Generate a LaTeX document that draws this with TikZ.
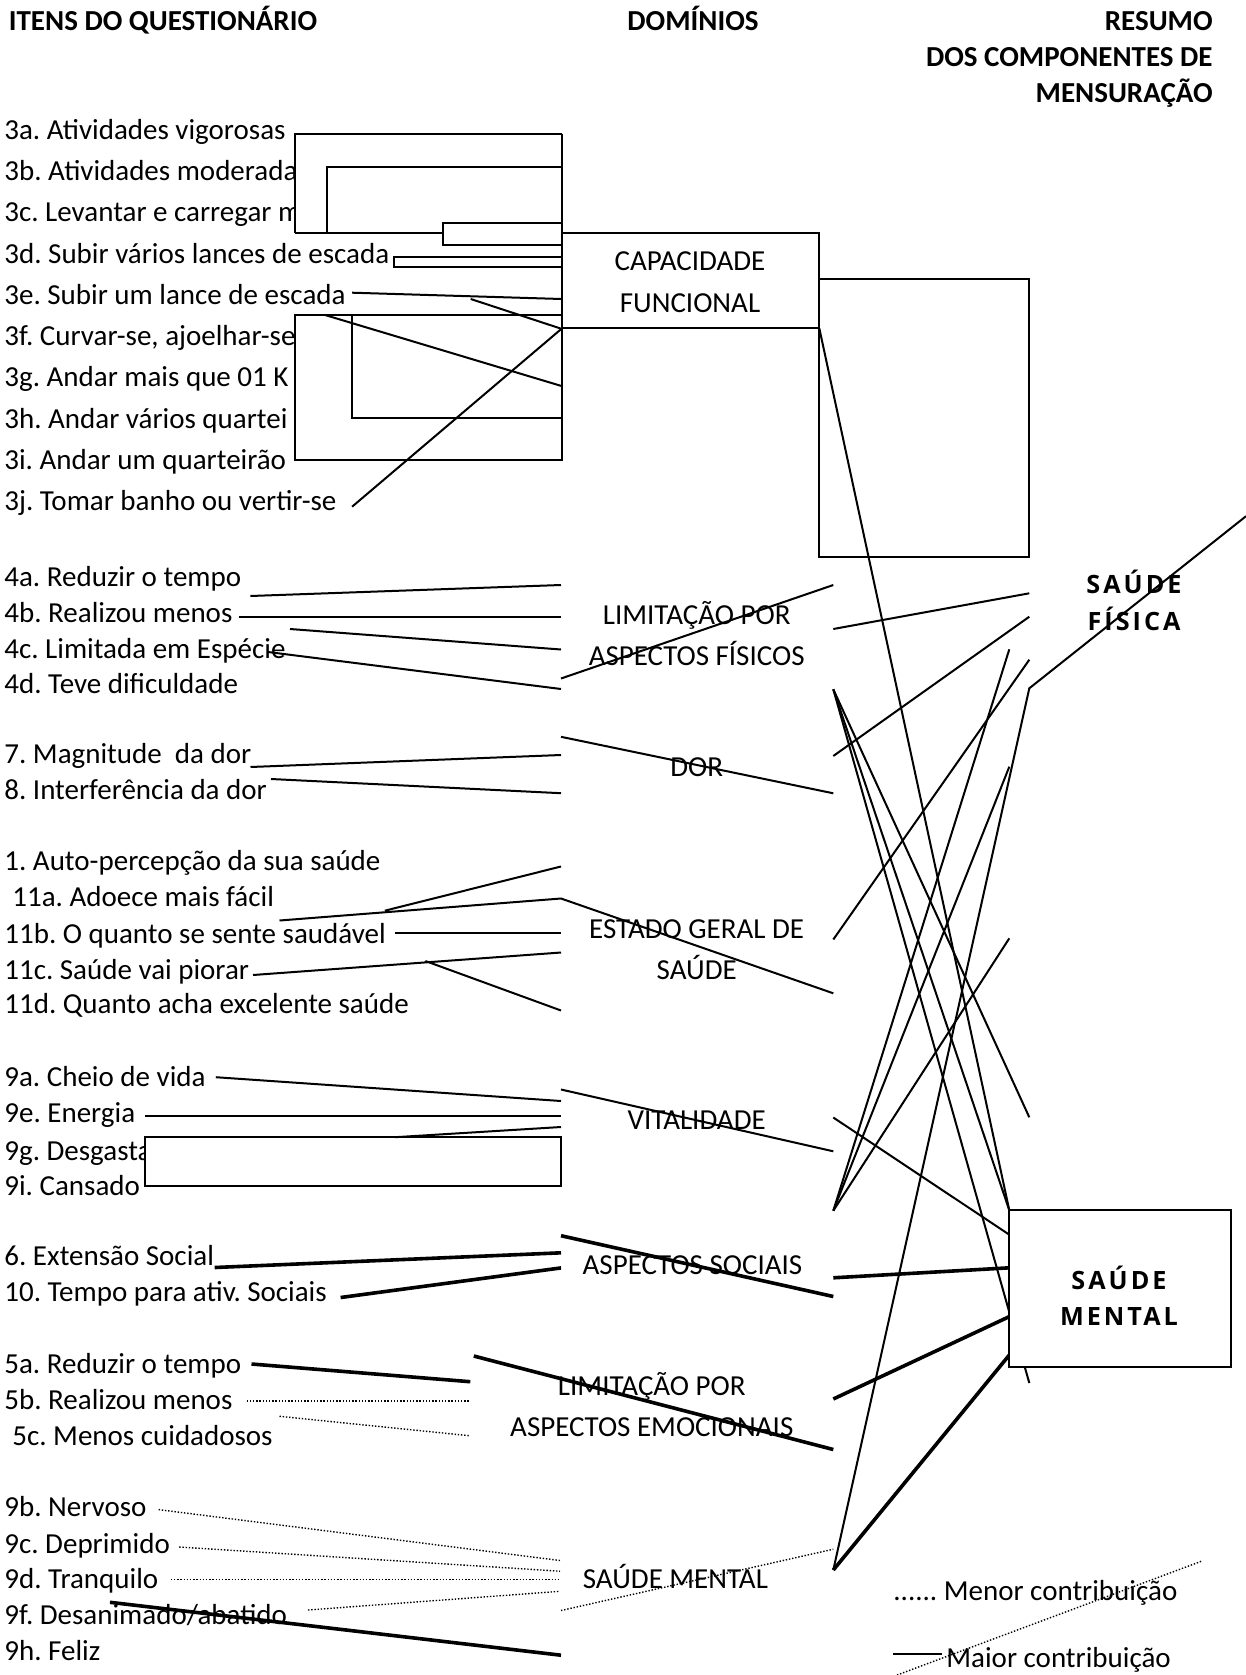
\documentclass[tikz,border=0pt]{standalone}
\usepackage{fontspec}
\setmainfont{Carlito}
\newfontfamily\osfam[LetterSpace=12]{Open Sans}
\frenchspacing
\begin{document}
\frenchspacing
\begin{tikzpicture}[x=0.5pt,y=-0.5pt,
 txt/.style={anchor=base west,inner sep=0pt,font=\fontsize{14.5}{17}\selectfont},
 dom/.style={anchor=base,inner sep=0pt,font=\fontsize{14.5}{17}\selectfont},
 hd/.style={inner sep=0pt,font=\fontsize{14.5}{17}\selectfont\bfseries},
 big/.style={anchor=base,inner sep=0pt,font=\fontsize{12.6}{15}\osfam\bfseries},
 ln/.style={line width=1pt},
 thk/.style={line width=1.8pt},
 dts/.style={line width=0.7pt,dash pattern=on 0.7pt off 0.9pt},
 wbox/.style={draw,fill=white,line width=1pt}]
\useasboundingbox (0,0) rectangle (1246,1675);

% ---------- headings
\node[hd,anchor=base west] (h1) at (8.5,30.5) {ITENS DO QUESTIONÁRIO};
\node[hd,anchor=base] (h2) at (693,30.5) {DOMÍNIOS};
\node[hd,anchor=base east] (h3) at (1213,30.5) {RESUMO};
\node[hd,anchor=base east] (h4) at (1213,67) {DOS COMPONENTES DE};
\node[hd,anchor=base east] (h5) at (1213,103) {MENSURAÇÃO};

% ---------- items
\node[txt] (i3a) at (4,139.5) {3a. Atividades vigorosas};
\node[txt] (i3b) at (4,180) {3b. Atividades moderada};
\node[txt] (i3c) at (4,221.7) {3c. Levantar e carregar m};
\node[txt] (i3d) at (4,263.3) {3d. Subir vários lances de escada};
\node[txt] (i3e) at (4,304) {3e. Subir um lance de escada};
\node[txt] (i3f) at (4,345.6) {3f. Curvar-se, ajoelhar-se};
\node[txt] (i3g) at (4,386.2) {3g. Andar mais que 01 K};
\node[txt] (i3h) at (4,428) {3h. Andar vários quartei};
\node[txt] (i3i) at (4,469.6) {3i. Andar um quarteirão};
\node[txt] (i3j) at (4,510.2) {3j. Tomar banho ou vertir-se};

\node[txt] (i4a) at (4,586) {4a. Reduzir o tempo};
\node[txt] (i4b) at (4,622.4) {4b. Realizou menos};
\node[txt] (i4c) at (4,658.7) {4c. Limitada em Espécie};
\node[txt] (i4d) at (4,693) {4d. Teve dificuldade};
\node[txt] (i7) at (4,763.4) {7. Magnitude\ \ da dor};
\node[txt] (i8) at (4,799.8) {8. Interferência da dor};
\node[txt] (i1) at (4,870.3) {1. Auto-percepção da sua saúde};
\node[txt] (i11a) at (12,906.6) {11a. Adoece mais fácil};
\node[txt] (i11b) at (4,943) {11b. O quanto se sente saudável};
\node[txt] (i11c) at (4,979.3) {11c. Saúde vai piorar};
\node[txt] (i11d) at (4,1013.5) {11d. Quanto acha excelente saúde};

\node[txt] (i9a) at (4,1086.2) {9a. Cheio de vida};
\node[txt] (i9e) at (4,1122.5) {9e. Energia};
\node[txt] (i9g) at (4,1160) {9g. Desgasta};
\node[txt] (i9i) at (4,1195) {9i. Cansado};
\node[txt] (i6) at (4,1265.7) {6. Extensão Social};
\node[txt] (i10) at (4,1301) {10. Tempo para ativ. Sociais};
\node[txt] (i5a) at (4,1373.6) {5a. Reduzir o tempo};
\node[txt] (i5b) at (4,1409) {5b. Realizou menos};
\node[txt] (i5c) at (12,1445.2) {5c. Menos cuidadosos};
\node[txt] (i9b) at (4,1516.8) {9b. Nervoso};
\node[txt] (i9c) at (4,1553) {9c. Deprimido};
\node[txt] (i9d) at (4,1588.4) {9d. Tranquilo};
\node[txt] (i9f) at (4,1624.7) {9f. Desanimado/abatido};
\node[txt] (i9h) at (4,1660) {9h. Feliz};

% ---------- coordinates
\coordinate (ua1) at (294.7,134.3); \coordinate (ua2) at (561.5,134.3);
\coordinate (ua3) at (294.7,232.7); \coordinate (ua4) at (443.2,232.7);
\coordinate (ub1) at (561.5,166.7); \coordinate (ub2) at (327.2,166.7); \coordinate (ub3) at (327.2,232.7);
\coordinate (uc1) at (561.5,223.3); \coordinate (uc2) at (443.2,223.3);
\coordinate (uc3) at (443.2,245); \coordinate (uc4) at (561.5,245);
\coordinate (ud1) at (561.5,256.7); \coordinate (ud2) at (394.2,256.7);
\coordinate (ud3) at (394.2,266.7); \coordinate (ud4) at (561.5,266.7);
\coordinate (e3a) at (352.1,292.7); \coordinate (e3b) at (561.5,299);
\coordinate (x1) at (470.7,299);
\coordinate (la1) at (294.7,315); \coordinate (la2) at (561.5,460);
\coordinate (lb1) at (352.1,315); \coordinate (lb2) at (352.1,418.3); \coordinate (lb3) at (561.5,418.3);
\coordinate (lc1) at (325,315); \coordinate (lc2) at (561.5,386);
\coordinate (j3) at (352.1,506.7);
\coordinate (cf1) at (561.5,233.3); \coordinate (cf2) at (819.3,328.3);
\coordinate (cfbl) at (561.5,328.8);
\coordinate (br1) at (819.3,279.3); \coordinate (br2) at (1029.3,557.3);
\coordinate (sm1) at (1009.3,1210.3); \coordinate (sm2) at (1230.5,1367);

% ---------- white covering boxes (section A)
\fill[white] (ua1) rectangle (la2 |- ua3);
\draw[ln] (ua3) -- (ua1) -- (ua2);
\draw[ln] (ua3) -- (ua4);
\draw[ln] (ub1) -- (ub2) -- (ub3);
\draw[ln] (uc1) -- (uc2) -- (uc3) -- (uc4);
\draw[ln] (ud1) -- (ud2) -- (ud3) -- (ud4);
\draw[wbox] (la1) rectangle (la2);
\draw[ln] (lb1) -- (lb2) -- (lb3);
\draw[ln] (ua2) -- (la2);
\draw[ln] (e3a) -- (e3b);
\draw[ln] (x1) -- (cfbl);
\draw[ln] (lc1) -- (lc2);
\draw[ln] (j3) -- (cfbl);

% CF box and big empty rectangle
\draw[wbox] (cf1) rectangle (cf2);
\node[dom] (dcf1) at (690,270.8) {CAPACIDADE};
\node[dom] (dcf2) at (690,312.5) {FUNCIONAL};
\draw[ln] (br1) rectangle (br2);
\draw[ln] (cf2) -- (sm1);

% ---------- section B
\coordinate (a4a) at (250.4,596); \coordinate (b4a) at (561,585);
\coordinate (a4b) at (238.5,617); \coordinate (b4b) at (561,617);
\coordinate (a4c) at (290,629);   \coordinate (b4c) at (561,649.5);
\coordinate (a4d) at (268,652);   \coordinate (b4d) at (561,689);
\coordinate (lpf1) at (561,678.5); \coordinate (lpf2) at (833.3,585);
\coordinate (lpf3) at (833.3,629); \coordinate (sf1) at (1029.3,593.3);
\coordinate (lpf4) at (833.3,756); \coordinate (sf2) at (1029.3,616.7);
\coordinate (fan1) at (833.3,689.3);
\coordinate (q1) at (1029.3,1117.3); \coordinate (q2) at (1029.3,1383);
\draw[ln] (a4a) -- (b4a);
\draw[ln] (a4b) -- (b4b);
\draw[ln] (a4c) -- (b4c);
\draw[ln] (a4d) -- (b4d);
\draw[ln] (lpf1) -- (lpf2);
\draw[ln] (lpf3) -- (sf1);
\draw[ln] (lpf4) -- (sf2);
\draw[ln] (fan1) -- (q1);
\draw[ln] (fan1) -- (sm1);
\draw[ln] (fan1) -- (q2);
\node[dom] (dlf1) at (696.7,624.5) {LIMITAÇÃO POR};
\node[dom] (dlf2) at (696.7,665) {ASPECTOS FÍSICOS};

\coordinate (a7) at (250.5,767); \coordinate (b7) at (561,755);
\coordinate (a8) at (271,779);   \coordinate (b8) at (561,793.2);
\coordinate (dr1) at (561,736.8); \coordinate (dr2) at (833.3,793.3);
\draw[ln] (a7) -- (b7);
\draw[ln] (a8) -- (b8);
\draw[ln] (dr1) -- (dr2);
\node[dom] (ddor) at (696.7,776.3) {DOR};

\coordinate (b1) at (561,866.5); \coordinate (a1) at (384.8,910.7);
\coordinate (a11a) at (279.5,920.5); \coordinate (b11a) at (561,898.5);
\coordinate (eg1) at (833.3,993.3);
\coordinate (a11b) at (395,933); \coordinate (b11b) at (561,933);
\coordinate (a11c) at (253,975); \coordinate (b11c) at (561,952.5);
\coordinate (a11d) at (425.4,961); \coordinate (b11d) at (561,1010.5);
\coordinate (eg2) at (833.3,939.5); \coordinate (sf3) at (1029.3,659.7);
\coordinate (cv) at (833.3,1210.7);
\coordinate (sf4) at (1009.3,649.3); \coordinate (sf5) at (1009.3,766.7); \coordinate (sf6) at (1009.3,938.3);
\draw[ln] (b1) -- (a1);
\draw[ln] (a11a) -- (b11a) -- (eg1);
\draw[ln] (a11b) -- (b11b);
\draw[ln] (a11c) -- (b11c);
\draw[ln] (a11d) -- (b11d);
\draw[ln] (eg2) -- (sf3);
\draw[ln] (sf4) -- (cv);
\draw[ln] (sf5) -- (cv);
\draw[ln] (sf6) -- (cv);
\node[dom] (deg1) at (696.7,938.7) {ESTADO GERAL DE};
\node[dom] (deg2) at (696.7,979.3) {SAÚDE};

% ---------- vitalidade
\coordinate (a9a) at (215.8,1077.2); \coordinate (b9a) at (561,1101);
\coordinate (a9e) at (145,1116); \coordinate (b9e) at (561,1116);
\coordinate (a9g) at (395,1137.2); \coordinate (b9g) at (561,1127);
\coordinate (vb1) at (145,1137.2); \coordinate (vb2) at (561,1185.5);
\coordinate (vt1) at (561,1089.5); \coordinate (vt2) at (833.3,1151.3);
\coordinate (vt3) at (833.3,1117.5); \coordinate (smv) at (1009.3,1234.7);
\draw[ln] (a9a) -- (b9a);
\draw[ln] (a9e) -- (b9e);
\draw[wbox] (vb1) rectangle (vb2);
\draw[ln] (a9g) -- (b9g);
\draw[ln] (vt1) -- (vt2);
\draw[ln] (vt3) -- (smv);
\node[dom] (dvit) at (696.7,1129) {VITALIDADE};

% ---------- aspectos sociais
\coordinate (a6) at (214.7,1267.5); \coordinate (b6) at (561,1252.8);
\coordinate (a10) at (340.6,1297.5); \coordinate (b10) at (561,1267.9);
\coordinate (as1) at (561,1235.7); \coordinate (as2) at (833.3,1296.5);
\coordinate (as3) at (833.3,1277.8); \coordinate (sms) at (1009.3,1267.8);
\draw[thk] (a6) -- (b6);
\draw[thk] (a10) -- (b10);
\draw[thk] (as1) -- (as2);
\draw[thk] (as3) -- (sms);
\node[dom] (das) at (692.5,1274.2) {ASPECTOS SOCIAIS};

% ---------- aspectos emocionais
\coordinate (a5a) at (251.5,1364); \coordinate (b5a) at (470.3,1381.7);
\coordinate (a5b) at (246.6,1401); \coordinate (b5b) at (470.3,1401);
\coordinate (a5c) at (279.5,1416.3); \coordinate (b5c) at (470.3,1435.8);
\coordinate (ae1) at (473.8,1356); \coordinate (ae2) at (833.3,1449.5);
\coordinate (ae3) at (833.3,1399); \coordinate (sme) at (1009.3,1316.6);
\draw[thk] (a5a) -- (b5a);
\draw[dts] (a5b) -- (b5b);
\draw[dts] (a5c) -- (b5c);
\draw[thk] (ae1) -- (ae2);
\draw[thk] (ae3) -- (sme);
\node[dom] (dae1) at (651.8,1395) {LIMITAÇÃO POR};
\node[dom] (dae2) at (651.8,1436.6) {ASPECTOS EMOCIONAIS};

% ---------- saude mental
\coordinate (a9b) at (158.6,1509.6); \coordinate (b9b) at (560,1560.5);
\coordinate (a9c) at (179.2,1547); \coordinate (b9c) at (560,1571.2);
\coordinate (a9d) at (170.7,1579.7); \coordinate (b9d) at (560,1579.7);
\coordinate (a9f) at (308,1610); \coordinate (b9f) at (560,1591.3);
\coordinate (a9h) at (110,1602.3); \coordinate (b9h) at (561,1655.2);
\coordinate (mm1) at (561,1610.5); \coordinate (mm2) at (833.3,1549.2);
\coordinate (mm3) at (833.3,1570); \coordinate (smm) at (1009.3,1355);
\coordinate (kink) at (1029.3,688.3); \coordinate (edge) at (1246,516.2);
\draw[dts] (a9b) -- (b9b);
\draw[dts] (a9c) -- (b9c);
\draw[dts] (a9d) -- (b9d);
\draw[dts] (a9f) -- (b9f);
\draw[dts] (mm1) -- (mm2);
\draw[thk] (a9h) -- (b9h);
\draw[thk] (mm3) -- (smm);
\draw[ln] (mm3) -- (kink) -- (edge);
\node[dom] (dsm) at (675.4,1588.4) {SAÚDE MENTAL};

% ---------- summary components
\node[big] (sft1) at (1134,593.5) {SAÚDE};
\node[big] (sft2) at (1134,630) {FÍSICA};
\draw[wbox] (sm1) rectangle (sm2);
\node[big] (smt1) at (1119,1289) {SAÚDE};
\node[big] (smt2) at (1119,1325.7) {MENTAL};

% ---------- legend
\coordinate (lg1) at (897,1675); \coordinate (lg2) at (1202,1561);
\coordinate (lg3) at (893,1654); \coordinate (lg4) at (942,1654);
\node[txt] (leg1) at (893,1600) {...... Menor contribuição};
\node[txt] (leg2) at (946,1667.5) {Maior contribuição};
\draw[ln] (lg3) -- (lg4);
\draw[dts] (lg1) -- (lg2);
\end{tikzpicture}
\end{document}
